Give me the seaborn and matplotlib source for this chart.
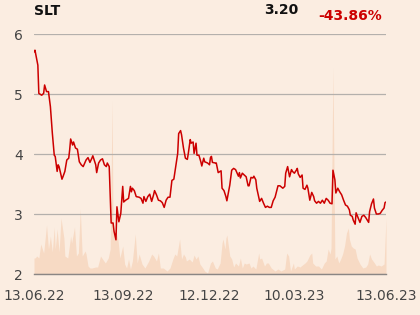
import numpy as np
import pandas as pd
import matplotlib
matplotlib.use("Agg")
import matplotlib.pyplot as plt
import matplotlib.dates as mdates
import seaborn as sns

# ---- data ----
start_date = "2022-06-13"
price_days = [0, 1, 4, 5, 8, 10, 11, 13, 15, 17, 19, 21, 22, 24, 25, 26, 29, 30, 32, 34,
              36, 37, 38, 40, 41, 43, 45, 47, 49, 51, 54, 56, 58, 60, 61, 64, 65, 67, 69, 71,
              73, 75, 76, 78, 80, 82, 83, 85, 86, 88, 90, 92, 93, 95, 98, 100, 101, 102, 104, 106,
              109, 111, 113, 114, 116, 118, 120, 122, 124, 125, 127, 129, 131, 133, 135, 137, 139, 141, 143, 145,
              147, 149, 150, 152, 153, 155, 157, 159, 160, 162, 163, 165, 166, 168, 169, 171, 173, 174, 176, 177,
              180, 182, 183, 184, 185, 188, 189, 191, 194, 195, 197, 199, 200, 202, 203, 205, 207, 209, 212, 213,
              214, 216, 218, 220, 222, 223, 225, 227, 228, 230, 231, 233, 234, 236, 238, 240, 242, 244, 246, 248,
              250, 253, 255, 258, 260, 261, 263, 265, 267, 268, 270, 272, 273, 274, 276, 278, 279, 281, 283, 284,
              286, 288, 290, 291, 293, 295, 297, 299, 301, 303, 305, 307, 309, 310, 312, 313, 315, 317, 319, 321,
              323, 325, 327, 328, 330, 331, 333, 334, 336, 338, 340, 342, 344, 347, 348, 350, 352, 353, 355, 357,
              359, 361, 363, 364, 365]
price = [5.70, 5.73, 5.48, 5.01, 4.98, 5.01, 5.15, 5.04, 5.04, 4.79, 4.35, 3.98, 3.96, 3.71, 3.82, 3.79, 3.58, 3.62, 3.71, 3.90,
         3.93, 4.07, 4.25, 4.15, 4.20, 4.10, 4.08, 3.87, 3.82, 3.79, 3.90, 3.94, 3.86, 3.93, 3.97, 3.82, 3.69, 3.85, 3.90, 3.92,
         3.82, 3.79, 3.85, 3.79, 2.85, 2.85, 2.71, 2.57, 3.12, 2.87, 3.01, 3.46, 3.20, 3.23, 3.26, 3.46, 3.37, 3.43, 3.39, 3.29,
         3.28, 3.26, 3.18, 3.29, 3.21, 3.29, 3.33, 3.21, 3.32, 3.39, 3.32, 3.23, 3.22, 3.19, 3.11, 3.23, 3.28, 3.28, 3.56, 3.58,
         3.79, 4.01, 4.34, 4.39, 4.32, 4.10, 3.93, 3.91, 4.01, 4.24, 4.18, 4.20, 4.01, 4.18, 3.98, 3.98, 3.87, 3.80, 3.93, 3.87,
         3.85, 3.82, 3.94, 3.96, 3.86, 3.85, 3.85, 3.69, 3.72, 3.43, 3.39, 3.29, 3.22, 3.40, 3.48, 3.73, 3.76, 3.74, 3.63, 3.69,
         3.60, 3.68, 3.65, 3.62, 3.47, 3.47, 3.61, 3.60, 3.63, 3.57, 3.43, 3.28, 3.21, 3.26, 3.18, 3.11, 3.13, 3.11, 3.11, 3.22,
         3.28, 3.47, 3.47, 3.43, 3.46, 3.68, 3.79, 3.62, 3.74, 3.71, 3.68, 3.73, 3.76, 3.67, 3.61, 3.65, 3.43, 3.41, 3.48, 3.43,
         3.23, 3.36, 3.29, 3.22, 3.18, 3.21, 3.18, 3.23, 3.18, 3.26, 3.23, 3.18, 3.17, 3.73, 3.57, 3.35, 3.43, 3.37, 3.32, 3.23,
         3.15, 3.13, 3.07, 2.98, 2.96, 2.90, 2.83, 3.02, 2.94, 2.86, 2.96, 2.98, 2.94, 2.86, 3.04, 3.17, 3.25, 3.10, 3.00, 3.00,
         3.01, 3.06, 3.10, 3.19, 3.20]

volume_days = [0, 1, 3, 5, 7, 10, 13, 15, 17, 19, 21, 22, 24, 26, 28, 31, 32, 35, 38, 39,
               42, 44, 46, 48, 50, 53, 54, 56, 58, 60, 64, 66, 69, 71, 74, 77, 79, 81, 82, 84,
               87, 89, 92, 94, 96, 98, 100, 102, 105, 107, 109, 112, 115, 119, 122, 124, 127, 129, 131, 134,
               138, 141, 144, 146, 148, 151, 153, 155, 157, 158, 161, 164, 166, 168, 170, 172, 175, 177, 180, 183,
               185, 188, 190, 193, 195, 196, 198, 199, 200, 203, 205, 207, 209, 212, 214, 216, 218, 220, 223, 225,
               227, 230, 233, 234, 236, 239, 241, 243, 246, 250, 253, 256, 260, 262, 264, 266, 269, 270, 273, 276,
               277, 281, 283, 286, 288, 289, 292, 295, 298, 301, 303, 305, 307, 308, 310, 312, 314, 316, 318, 320,
               322, 324, 326, 327, 329, 331, 333, 335, 338, 341, 344, 346, 348, 350, 353, 355, 357, 360, 363, 365]
volume = [16, 16, 18, 16, 30, 21, 49, 25, 38, 22, 47, 25, 45, 22, 56, 36, 18, 16, 38, 31,
          47, 18, 21, 65, 18, 23, 20, 8, 6, 6, 7, 7, 18, 15, 11, 16, 25, 174, 40, 45,
          35, 16, 28, 10, 6, 15, 5, 13, 40, 11, 20, 10, 6, 13, 20, 18, 13, 21, 6, 6,
          3, 6, 15, 20, 18, 35, 15, 20, 17, 13, 15, 12, 19, 15, 18, 10, 6, 3, 1, 11,
          13, 6, 5, 11, 31, 35, 25, 36, 39, 18, 15, 7, 11, 8, 16, 6, 11, 10, 11, 6,
          8, 5, 21, 15, 16, 8, 11, 11, 6, 3, 5, 3, 5, 21, 18, 3, 11, 5, 8, 7,
          8, 11, 13, 19, 21, 11, 8, 8, 5, 11, 13, 25, 20, 26, 207, 15, 18, 11, 15, 20,
          28, 41, 46, 35, 28, 26, 25, 16, 10, 6, 7, 10, 20, 15, 11, 8, 9, 8, 10, 56]

tick_labels = ["13.06.22", "13.09.22", "12.12.22", "10.03.23", "13.06.23"]
tick_dates = ["2022-06-13", "2022-09-13", "2022-12-12", "2023-03-10", "2023-06-13"]
title_left = "SLT"
last_price = "3.20"
change_pct = "-43.86%"

# ---- styling ----
BG = "#FBEDE1"
LINE = "#CC0000"
VOL = "#F7D8C1"
GRID = "#B4B0AC"

sns.set_style("white")
plt.rcParams["font.family"] = ["DejaVu Sans"]

start = pd.Timestamp(start_date)
pdf = pd.DataFrame({"date": start + pd.to_timedelta(price_days, unit="D"), "price": price})
vdf = pd.DataFrame({"date": start + pd.to_timedelta(volume_days, unit="D"), "volume": volume})

fig = plt.figure(figsize=(4.2, 3.15), dpi=100, facecolor=BG)
ax = fig.add_axes([34 / 420, 1 - 274 / 315, 352 / 420, 240 / 315])
ax2 = ax.twinx()
ax.set_zorder(ax2.get_zorder() + 1)
ax.patch.set_visible(False)
ax2.patch.set_facecolor(BG)

# volume area
ax2.fill_between(vdf["date"], 0, vdf["volume"], color=VOL, linewidth=0, alpha=0.9)
ax2.set_ylim(0, 240)
ax2.set_yticks([])
for s in ax2.spines.values():
    s.set_visible(False)

# price line
sns.lineplot(data=pdf, x="date", y="price", ax=ax, color=LINE, linewidth=1.1)
ax.set_ylim(2, 6)
ax.set_yticks([2, 3, 4, 5, 6])
ax.set_yticklabels(["2", "3", "4", "5", "6"])
ax.set_xlim(start, pd.Timestamp(tick_dates[-1]))
ax.set_xticks(pd.to_datetime(tick_dates))
ax.set_xticklabels(tick_labels)
ax.set_xlabel("")
ax.set_ylabel("")
ax.grid(axis="y", color=GRID, linewidth=0.9)
ax.grid(axis="x", visible=False)
for name, s in ax.spines.items():
    s.set_visible(name == "bottom")
ax.spines["bottom"].set_color("#8A8684")
ax.spines["bottom"].set_linewidth(1.0)
ax.tick_params(axis="x", length=9, width=1, color="#8A8684", labelsize=10,
               labelcolor="#444444", pad=2)
ax.tick_params(axis="y", length=0, labelsize=10, labelcolor="#444444", pad=8)

fig.text(34 / 420, 1 - 11 / 315, title_left, fontsize=10, fontweight="bold",
         color="#111111", va="center", ha="left")
fig.text(298 / 420, 1 - 10 / 315, last_price, fontsize=10, fontweight="bold",
         color="#111111", va="center", ha="right")
fig.text(382 / 420, 1 - 16 / 315, change_pct, fontsize=10, fontweight="bold",
         color=LINE, va="center", ha="right")

fig.savefig("out.png", dpi=100, facecolor=BG)
